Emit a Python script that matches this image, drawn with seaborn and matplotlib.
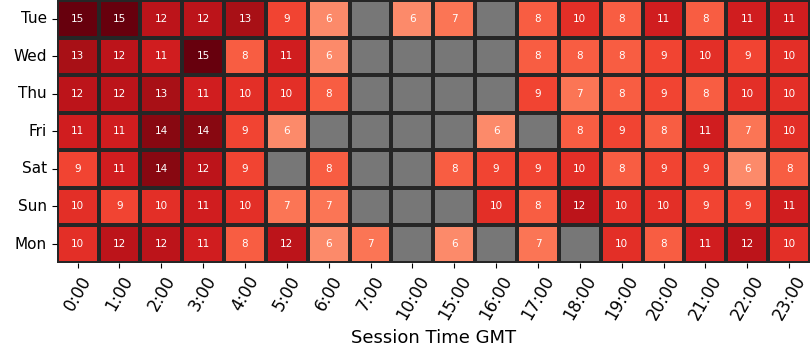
import numpy as np
import pandas as pd
import matplotlib
matplotlib.use("Agg")
import matplotlib.pyplot as plt
import seaborn as sns

days = ["Tue", "Wed", "Thu", "Fri", "Sat", "Sun", "Mon"]
hours = ["0:00", "1:00", "2:00", "3:00", "4:00", "5:00", "6:00", "7:00", "10:00",
         "15:00", "16:00", "17:00", "18:00", "19:00", "20:00", "21:00", "22:00", "23:00"]
nan = np.nan
tue = [15, 15, 12, 12, 13, 9, 6, nan, 6, 7, nan, 8, 10, 8, 11, 8, 11, 11]
wed = [13, 12, 11, 15, 8, 11, 6, nan, nan, nan, nan, 8, 8, 8, 9, 10, 9, 10]
thu = [12, 12, 13, 11, 10, 10, 8, nan, nan, nan, nan, 9, 7, 8, 9, 8, 10, 10]
fri = [11, 11, 14, 14, 9, 6, nan, nan, nan, nan, 6, nan, 8, 9, 8, 11, 7, 10]
sat = [9, 11, 14, 12, 9, nan, 8, nan, nan, 8, 9, 9, 10, 8, 9, 9, 6, 8]
sun = [10, 9, 10, 11, 10, 7, 7, nan, nan, nan, 10, 8, 12, 10, 10, 9, 9, 11]
mon = [10, 12, 12, 11, 8, 12, 6, 7, nan, 6, nan, 7, nan, 10, 8, 11, 12, 10]

df = pd.DataFrame([tue, wed, thu, fri, sat, sun, mon], index=days, columns=hours)

fig, ax = plt.subplots(figsize=(8.1, 3.6), dpi=100)
ax.set_facecolor("#777777")
sns.heatmap(df, cmap="Reds", vmin=0, vmax=15, annot=True, fmt=".0f",
            annot_kws={"fontsize": 7.5, "color": "white"},
            linewidths=1.5, linecolor="#262626", cbar=False, ax=ax)
ax.set_xlabel("Session Time GMT", fontsize=13)
ax.set_ylabel("")
plt.setp(ax.get_xticklabels(), rotation=60, fontsize=12)
plt.setp(ax.get_yticklabels(), rotation=0, fontsize=11)
fig.subplots_adjust(left=0.07, right=1.0, top=1.0, bottom=0.27)
fig.savefig("out.png")
